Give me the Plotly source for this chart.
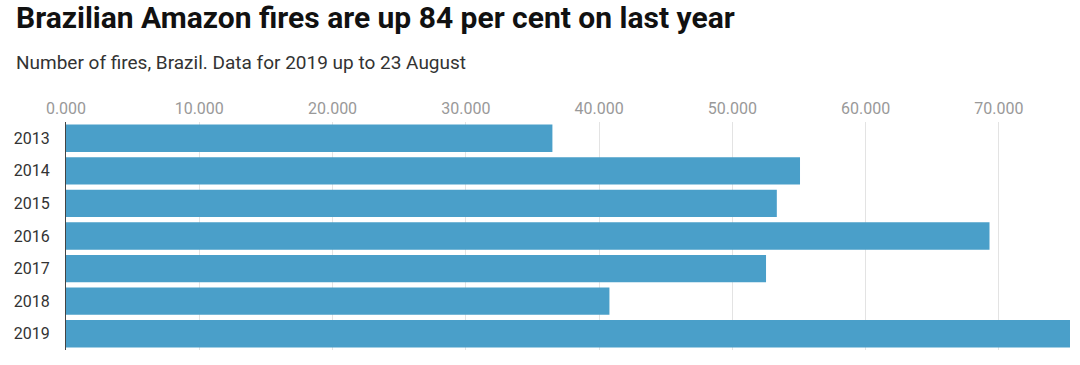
import plotly.graph_objects as go

years = ["2013", "2014", "2015", "2016", "2017", "2018", "2019"]
fires = [36500, 55080, 53340, 69300, 52530, 40780, 75340]
tick_values = [0, 10000, 20000, 30000, 40000, 50000, 60000, 70000]
tick_labels = ["0.000", "10.000", "20.000", "30.000", "40.000", "50.000", "60.000", "70.000"]

fig = go.Figure(go.Bar(
    x=fires, y=years, orientation="h",
    marker=dict(color="#4a9fc9", line=dict(width=0)),
))

fig.update_layout(
    width=1080, height=365,
    margin=dict(l=66, r=10, t=122, b=15, autoexpand=False),
    paper_bgcolor="white", plot_bgcolor="white",
    bargap=0.16, showlegend=False,
    font=dict(family="Roboto", color="#333"),
    xaxis=dict(
        side="top", range=[0, 75340], tickvals=tick_values, ticktext=tick_labels,
        showgrid=True, gridcolor="#e3e3e3", gridwidth=1, zeroline=False,
        tickfont=dict(size=16, color="#999"), ticks="", ticklabelstandoff=4,
        automargin=False,
    ),
    yaxis=dict(
        autorange="reversed", showgrid=False, zeroline=False,
        showline=True, linecolor="#444", linewidth=1,
        tickfont=dict(size=16, color="#333"), ticks="", ticklabelstandoff=12,
        automargin=False,
    ),
    annotations=[
        dict(text="<b>Brazilian Amazon fires are up 84 per cent on last year</b>",
             xref="paper", yref="paper", x=-51/1004, y=1 + 104/228,
             xanchor="left", yanchor="middle", showarrow=False, borderpad=0,
             font=dict(size=30, color="#111", family="Roboto")),
        dict(text="Number of fires, Brazil. Data for 2019 up to 23 August",
             xref="paper", yref="paper", x=-51/1004, y=1 + 60/228,
             xanchor="left", yanchor="middle", showarrow=False, borderpad=0,
             font=dict(size=19, color="#333", family="Roboto")),
    ],
)

fig.write_html(
    "out.html",
    config={"displayModeBar": False},
    post_script="document.body.style.margin='0';document.body.style.overflow='hidden';",
)
